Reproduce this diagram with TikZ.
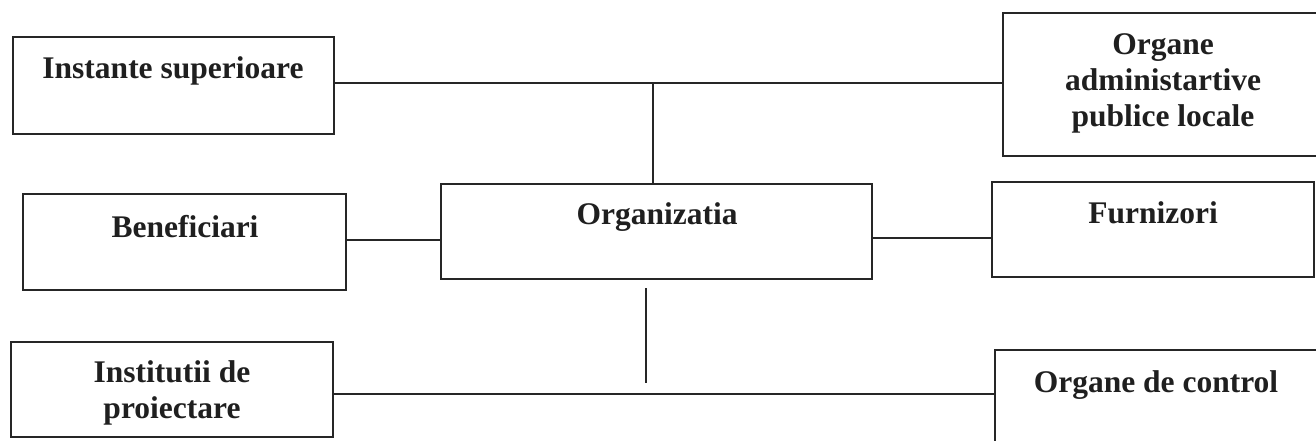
\documentclass[tikz,border=0pt]{standalone}
\usepackage{fontspec}
\setmainfont{Liberation Serif}
\begin{document}
\begin{tikzpicture}[x=1pt,y=-1pt,
  box/.style={draw=black!85, line width=1.5pt, rectangle, inner sep=0pt},
  lbl/.style={font=\fontsize{31.5}{36}\selectfont\bfseries, text=black!88, align=center, inner sep=0pt, anchor=base},
  conn/.style={draw=black!85, line width=1.5pt}]
\useasboundingbox (0,0) rectangle (1316,441);
\clip (0,0) rectangle (1316,441);
% boxes
\node[box, minimum width=321pt, minimum height=97pt] (inst) at (173.5,85.5) {};
\node[box, minimum width=320pt, minimum height=143pt] (adm) at (1163,84.5) {};
\node[box, minimum width=323pt, minimum height=96pt] (ben) at (184.5,242) {};
\node[box, minimum width=431pt, minimum height=95pt] (org) at (656.5,231.5) {};
\node[box, minimum width=322pt, minimum height=95pt] (furn) at (1153,229.5) {};
\node[box, minimum width=322pt, minimum height=95pt] (instp) at (172,389.5) {};
\node[box, minimum width=322pt, minimum height=96pt] (ctrl) at (1156,398) {};
% labels (multi-line labels are anchored at the baseline of their last line)
\node[lbl] (tinst) at (173,79) {Instante superioare};
\node[lbl] (tadm) at (1163,127) {Organe\\administartive\\publice locale};
\node[lbl] (tben) at (185,237) {Beneficiari};
\node[lbl] (torg) at (657,224) {Organizatia};
\node[lbl] (tfurn) at (1153,223) {Furnizori};
\node[lbl] (tinstp) at (172,418) {Institutii de\\proiectare};
\node[lbl] (tctrl) at (1156,392) {Organe de control};
% connector junctions
\coordinate (ytop) at (0,83);
\coordinate (tj) at (653,83);
\coordinate (ymid) at (0,238);
\coordinate (bs) at (646,288);
\coordinate (be) at (646,383);
\coordinate (ybot) at (0,394);
% connectors
\draw[conn] (ytop -| inst.east) -- (ytop -| adm.west);
\draw[conn] (tj) -- (tj |- org.north);
\draw[conn] (ben.east |- 0,240) -- (org.west |- 0,240);
\draw[conn] (ymid -| org.east) -- (ymid -| furn.west);
\draw[conn] (bs) -- (be);
\draw[conn] (ybot -| instp.east) -- (ybot -| ctrl.west);
\end{tikzpicture}
\end{document}
